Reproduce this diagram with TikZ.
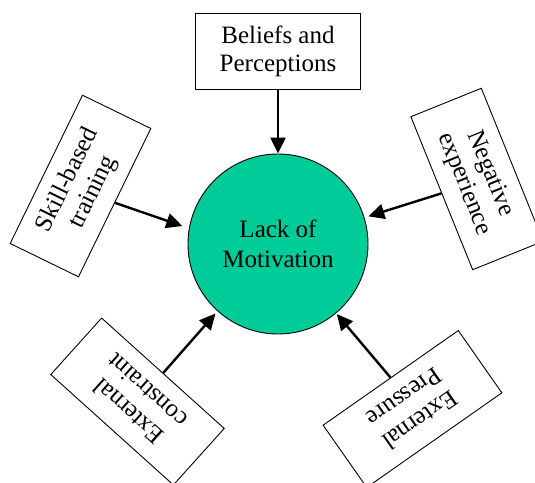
\documentclass[tikz,border=0pt]{standalone}
\usepackage{fontspec}
\setmainfont{Liberation Serif}
\usetikzlibrary{arrows.meta}
\definecolor{motivgreen}{RGB}{0,204,153}

\tikzset{
  factor/.style={draw,line width=0.9pt,fill=white,minimum width=165pt,minimum height=76pt,
    inner sep=0pt,align=center},
  core/.style={circle,draw,line width=0.9pt,fill=motivgreen,minimum size=180pt,inner sep=0pt,align=center,
    font=\fontsize{25}{30}\selectfont},
  push/.style={line width=2.4pt,-{Triangle[length=16pt,width=15pt]}}
}

\begin{document}
\begin{tikzpicture}[x=1pt,y=1pt,font=\fontsize{25}{28}\selectfont]

\clip (0,0) rectangle (535,482);

\node[core] (motiv) at (278,238) {Lack of\\Motivation};

\node[factor] (beliefs) at (278,431) {Beliefs and\\Perceptions};
\node[factor,rotate=64] (skill) at (80.5,296) {Skill-based\\training};
\node[factor,rotate=-68] (negexp) at (477,303) {Negative\\experience};
\node[factor,rotate=138] (constraint) at (137.5,80.5) {External\\constraint};
\node[factor,rotate=215] (pressure) at (412.5,73) {External\\Pressure};

\draw[push] (beliefs.south) -- (motiv.north);
\draw[push,shorten >=7pt] (skill.south) -- (motiv.170);
\draw[push,shorten >=4pt] (negexp.south) -- (motiv.17);
\draw[push,shorten >=3pt] (constraint.south) -- (motiv.228);
\draw[push,shorten >=1pt] (pressure.south) -- (motiv.310);

\end{tikzpicture}
\end{document}
